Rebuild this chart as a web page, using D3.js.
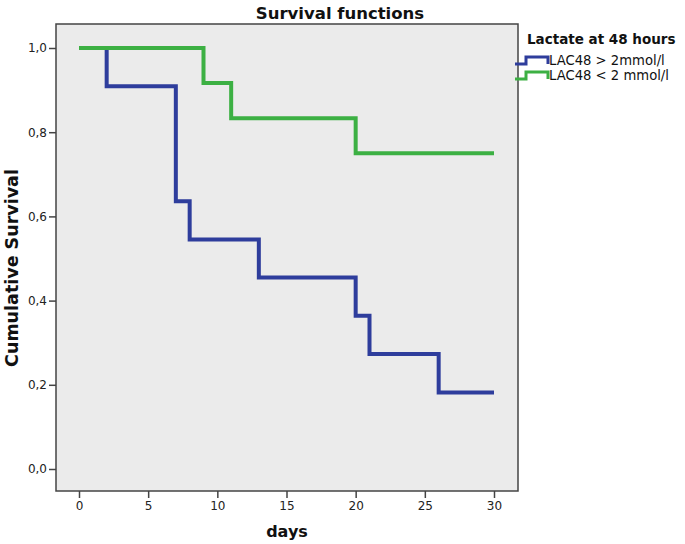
<!DOCTYPE html>
<html>
<head>
<meta charset="utf-8">
<script src="https://cdn.jsdelivr.net/npm/d3@7"></script>
<style>
  body { margin: 0; background: #fff; }
  text { font-family: "DejaVu Sans", Verdana, sans-serif; }
</style>
</head>
<body>
<div id="chart"></div>
<script>
// Kaplan-Meier steps: time (days) and survival after each event
const highTimes = [0, 2, 7, 8, 13, 20, 21, 26, 30];
const highSurv = [1.0, 0.909, 0.636, 0.545, 0.455, 0.364, 0.273, 0.182, 0.182];
const lowTimes = [0, 9, 11, 20, 30];
const lowSurv = [1.0, 0.917, 0.833, 0.75, 0.75];
const seriesNames = ['LAC48 > 2mmol/l', 'LAC48 < 2 mmol/l'];
const xTicks = [0, 5, 10, 15, 20, 25, 30];
const yTicks = [0, 0.2, 0.4, 0.6, 0.8, 1.0];

const W = 685, H = 544;
const Frame = { Left: 56, Top: 24, Right: 518, Bottom: 491 };

const svg = d3.select('#chart').append('svg')
  .attr('width', W)
  .attr('height', H);

const x = d3.scaleLinear().domain([0, 30]).range([79, 494]);
const y = d3.scaleLinear().domain([0, 1]).range([469, 48]);

// plot background + frame
svg.append('rect')
  .attr('x', Frame.Left).attr('y', Frame.Top)
  .attr('width', Frame.Right - Frame.Left)
  .attr('height', Frame.Bottom - Frame.Top)
  .attr('fill', '#ebebeb')
  .attr('stroke', '#444')
  .attr('stroke-width', 1.5);

const fmt = d => d3.format('.1f')(d).replace('.', ',');

const yAxis = svg.append('g')
  .attr('transform', `translate(${Frame.Left},0)`)
  .call(d3.axisLeft(y).tickValues(yTicks).tickFormat(fmt).tickSize(7).tickPadding(2));
const xAxis = svg.append('g')
  .attr('transform', `translate(0,${Frame.Bottom})`)
  .call(d3.axisBottom(x).tickValues(xTicks).tickSize(7).tickPadding(3));

[xAxis, yAxis].forEach(g => {
  g.select('.domain').remove();
  g.selectAll('line').attr('stroke', '#444').attr('stroke-width', 1.5);
  g.selectAll('text').attr('fill', '#222').style('font-size', '12px');
});

const line = d3.line()
  .x(d => x(d[0]))
  .y(d => y(d[1]))
  .curve(d3.curveStepAfter);

const series = [
  { name: seriesNames[0], color: '#2e3d9c', pts: d3.zip(highTimes, highSurv) },
  { name: seriesNames[1], color: '#3cb043', pts: d3.zip(lowTimes, lowSurv) }
];

// blue first, green on top (green covers the shared 1,0 start)
series.forEach(s => {
  svg.append('path')
    .datum(s.pts)
    .attr('fill', 'none')
    .attr('stroke', s.color)
    .attr('stroke-width', 4)
    .attr('d', line);
});

// titles
svg.append('text')
  .attr('x', 340).attr('y', 19)
  .attr('text-anchor', 'middle')
  .style('font-size', '16.5px').style('font-weight', 'bold')
  .attr('fill', '#111')
  .text('Survival functions');

svg.append('text')
  .attr('transform', 'translate(18,268) rotate(-90)')
  .attr('text-anchor', 'middle')
  .style('font-size', '17.5px').style('font-weight', 'bold')
  .attr('fill', '#111')
  .text('Cumulative Survival');

svg.append('text')
  .attr('x', (Frame.Left + Frame.Right) / 2).attr('y', 537)
  .attr('text-anchor', 'middle')
  .style('font-size', '16px').style('font-weight', 'bold')
  .attr('fill', '#111')
  .text('days');

// legend
const legend = svg.append('g').attr('transform', 'translate(515,0)');
legend.append('text')
  .attr('x', 12).attr('y', 44)
  .style('font-size', '13.5px').style('font-weight', 'bold')
  .attr('fill', '#111')
  .text('Lactate at 48 hours');

series.forEach((s, i) => {
  const cy = 60 + i * 15;
  legend.append('path')
    .attr('d', `M0,${cy + 4}H11V${cy - 3}H33V${cy + 4}`)
    .attr('fill', 'none')
    .attr('stroke', s.color)
    .attr('stroke-width', 3);
  legend.append('text')
    .attr('x', 34).attr('y', cy + 5)
    .style('font-size', '13.2px')
    .attr('fill', '#111')
    .text(s.name);
});
</script>
</body>
</html>
